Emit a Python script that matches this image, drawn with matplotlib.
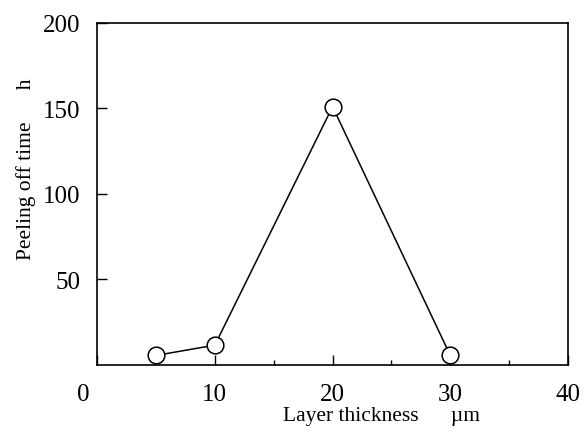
import matplotlib
matplotlib.use("Agg")
import matplotlib.pyplot as plt
import matplotlib.transforms as mtransforms

# data
thickness = [5, 10, 20, 30]          # layer thickness, um
peel_time = [5.5, 11.5, 151, 5.5]    # peeling off time, h

x_ticks = [0, 10, 20, 30, 40]
y_ticks = [50, 100, 150, 200]

plt.rcParams["font.family"] = ["Liberation Serif", "DejaVu Serif"]

fig = plt.figure(figsize=(5.85, 4.35), dpi=100)
ax = fig.add_axes([0.166, 0.159, 0.805, 0.786])

ax.plot(thickness, peel_time, color="black", linewidth=1.1,
        marker="o", markersize=12, markerfacecolor="white",
        markeredgecolor="black", markeredgewidth=1.1, zorder=3)

ax.set_xlim(0, 40)
ax.set_ylim(0, 200)
ax.set_xticks(x_ticks)
ax.set_yticks(y_ticks)
ax.set_xticks([15, 25, 35], minor=True)

ax.tick_params(axis="both", which="major", direction="in", length=7,
               width=1, labelsize=18, pad=12)
ax.tick_params(axis="x", which="major", pad=13)
ax.tick_params(axis="both", which="minor", direction="in", length=3.5, width=1)
for s in ax.spines.values():
    s.set_linewidth(1.2)

# the "0" label sits a little left of its tick in the reference
lbl0 = ax.get_xticklabels()[0]
lbl0.set_transform(lbl0.get_transform() +
                   mtransforms.ScaledTranslation(-10 / 72, 0, fig.dpi_scale_trans))

ax.set_xlabel("Layer thickness      \u00b5m", fontsize=15.5)
ax.xaxis.set_label_coords(0.603, -0.12)
ax.set_ylabel("Peeling off time      h", fontsize=15.5)
ax.yaxis.set_label_coords(-0.13, 0.576)

fig.savefig("out.png", dpi=100)
